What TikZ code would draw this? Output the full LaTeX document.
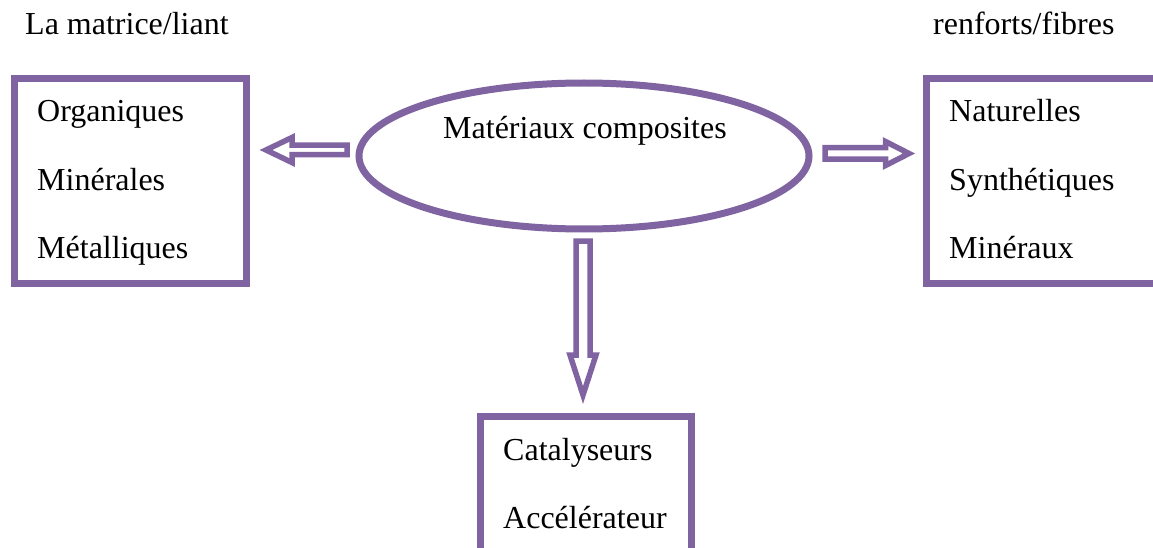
\documentclass[tikz,border=0pt]{standalone}
\usepackage{fontspec}
\setmainfont{Liberation Serif}
\usetikzlibrary{shapes.geometric,calc}
\definecolor{accent}{HTML}{8064A2}
\tikzset{
  frame/.style={draw=accent, line width=7pt, inner sep=0pt, outer sep=0pt},
  txt/.style={anchor=base west, inner sep=0pt, font=\fontsize{32}{38}\selectfont},
  hollow/.style={draw=accent, line width=5.5pt, fill=white, line join=miter},
}
\begin{document}
\begin{tikzpicture}[x=1pt,y=-1pt]
\useasboundingbox (0,0) rectangle (1153,548);
\clip (0,0) rectangle (1153,548);
\fill[white] (0,0) rectangle (1153,548);

% headings
\node[txt] (hmat) at (25,35) {La matrice/liant};
\node[txt] (hren) at (933,35) {renforts/fibres};

% frames
\node[frame, minimum width=232pt, minimum height=205pt] (matrice) at (130.5,181) {};
\node[frame, minimum width=238.5pt, minimum height=205pt] (renfort) at (1045.75,181) {};
\node[frame, minimum width=211.5pt, minimum height=148.5pt] (additif) at (585.75,490.75) {};
\node[frame, ellipse, minimum width=450pt, minimum height=146pt] (comp) at (584,156) {};

% texts
\node[txt] (tcomp) at (443,139) {Matériaux composites};
\node[txt] (m1) at (37,122) {Organiques};
\node[txt] (m2) at (37,190) {Minérales};
\node[txt] (m3) at (37,258) {Métalliques};
\node[txt] (r1) at (949,122) {Naturelles};
\node[txt] (r2) at (949,190) {Synthétiques};
\node[txt] (r3) at (949,258) {Minéraux};
\node[txt] (a1) at (503,460) {Catalyseurs};
\node[txt] (a2) at (503,528) {Accélérateur};

% hollow block arrows
\coordinate (lTail) at (347,150);
\coordinate (lTip) at (266,150);
\draw[hollow] ($(lTail)+(0,-4.75)$) -- ($(lTip)+(26,-4.75)$) -- ($(lTip)+(26,-12.5)$)
  -- (lTip) -- ($(lTip)+(26,12.5)$) -- ($(lTip)+(26,4.75)$) -- ($(lTail)+(0,4.75)$) -- cycle;

\coordinate (rTail) at (825,153.5);
\coordinate (rTip) at (909,153.5);
\draw[hollow] ($(rTail)+(0,-5.75)$) -- ($(rTip)+(-23.5,-5.75)$) -- ($(rTip)+(-23.5,-12)$)
  -- (rTip) -- ($(rTip)+(-23.5,12)$) -- ($(rTip)+(-23.5,5.75)$) -- ($(rTail)+(0,5.75)$) -- cycle;

\coordinate (dTail) at (583,241);
\coordinate (dTip) at (583,395);
\draw[hollow] ($(dTail)+(-7,0)$) -- ($(dTip)+(-7,-40)$) -- ($(dTip)+(-13,-40)$)
  -- (dTip) -- ($(dTip)+(13,-40)$) -- ($(dTip)+(7,-40)$) -- ($(dTail)+(7,0)$) -- cycle;
\end{tikzpicture}
\end{document}
